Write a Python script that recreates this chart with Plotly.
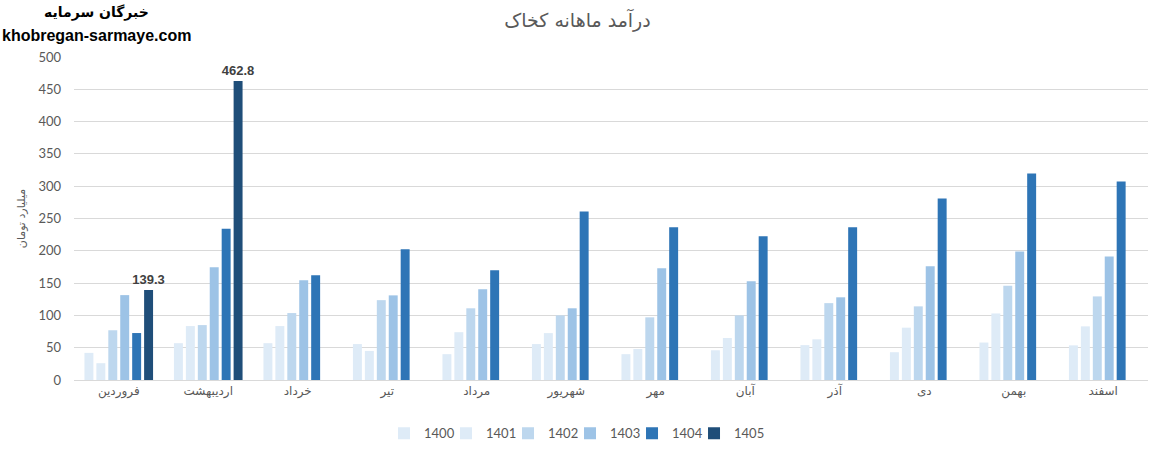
import plotly.graph_objects as go

# months (Persian calendar)
months = ['فروردین', 'اردیبهشت', 'خرداد', 'تیر', 'مرداد', 'شهریور',
          'مهر', 'آبان', 'آذر', 'دی', 'بهمن', 'اسفند']

years = ['1400', '1401', '1402', '1403', '1404', '1405']

# monthly revenue, billion toman
rev_1400 = [42, 57, 57, 55.6, 40, 55.6, 40, 46, 54, 43, 58, 53.6]
rev_1401 = [26, 83.5, 83.5, 45, 74, 72.6, 48, 65, 63, 81, 103, 83]
rev_1402 = [77, 85, 103.6, 123.6, 111, 100, 97, 100, 119, 114, 146, 129.4]
rev_1403 = [131.4, 174.7, 154.6, 131, 140.6, 111, 173, 153, 128, 176, 199, 191]
rev_1404 = [72.7, 234, 162.3, 202.4, 170, 261, 236.4, 222.5, 236.4, 281, 319.6, 307.2]
rev_1405 = [139.3, 462.8, None, None, None, None, None, None, None, None, None, None]

series = [rev_1400, rev_1401, rev_1402, rev_1403, rev_1404, rev_1405]
colors = ['#DEEBF7', '#DEEBF7', '#BDD7EE', '#9DC3E6', '#2E75B6', '#1F4E79']

font_fa = 'Lato, DejaVu Sans, sans-serif'

fig = go.Figure()
for yr, vals, col in zip(years, series, colors):
    bar = go.Bar(x=months, y=vals, name=yr, marker_color=col,
                 marker_line_width=0)
    if yr == '1405':
        # only the 1405 bars carry a value label
        bar.update(text=[f'{v}' if v is not None else '' for v in vals],
                   textposition='outside', cliponaxis=False, constraintext='none',
                   textfont=dict(size=13, color='#404040',
                                 family='Liberation Sans', weight='bold'))
    fig.add_trace(bar)

# empty legend slot so the last (narrow) legend entry isn't clipped
fig.add_trace(go.Scatter(x=[None], y=[None], name='', mode='markers',
                         marker=dict(color='rgba(0,0,0,0)', size=1),
                         hoverinfo='skip'))

fig.update_layout(
    width=1155, height=455,
    barmode='group', bargap=0.2, bargroupgap=0.25,
    plot_bgcolor='white', paper_bgcolor='white',
    margin=dict(l=74, r=7, t=57, b=75, autoexpand=False),
    font=dict(family=font_fa, color='#595959', size=13),
    title=dict(text='درآمد ماهانه کخاک', x=0.5, xref='container',
               y=0.956, yref='container', yanchor='middle',
               font=dict(size=19, color='#595959', family='DejaVu Sans')),
    legend=dict(orientation='h', x=0.4907, xanchor='center', y=-0.165,
                yanchor='middle', font=dict(size=13, color='#595959'),
                itemwidth=30, entrywidth=17, traceorder='normal'),
    showlegend=True,
)

fig.update_xaxes(showline=True, linecolor='#D9D9D9', ticks='',
                 tickfont=dict(size=12, family='DejaVu Sans', color='#595959'))
fig.update_yaxes(range=[0, 500], dtick=50, gridcolor='#D9D9D9',
                 zeroline=False, ticks='', tickfont=dict(size=13),
                 ticklabelstandoff=12,
                 title=dict(text='میلیارد تومان', standoff=10,
                            font=dict(size=11, family='DejaVu Sans', color='#595959')))

# site watermark, top-left
fig.add_annotation(text='<b>خبرگان سرمایه</b>', x=0.0214, y=1.139,
                   xref='paper', yref='paper', xanchor='center', yanchor='middle',
                   showarrow=False,
                   font=dict(size=14, color='black', family='DejaVu Sans'))
fig.add_annotation(text='<b>khobregan-sarmaye.com</b>', x=0.0214, y=1.068,
                   xref='paper', yref='paper', xanchor='center', yanchor='middle',
                   showarrow=False,
                   font=dict(size=16, color='black', family='Liberation Sans'))

# drop the default 8px page margin so the figure sits at the window corner
fig.write_html('out.html', config={'displayModeBar': False},
               post_script="document.body.style.margin='0';")
